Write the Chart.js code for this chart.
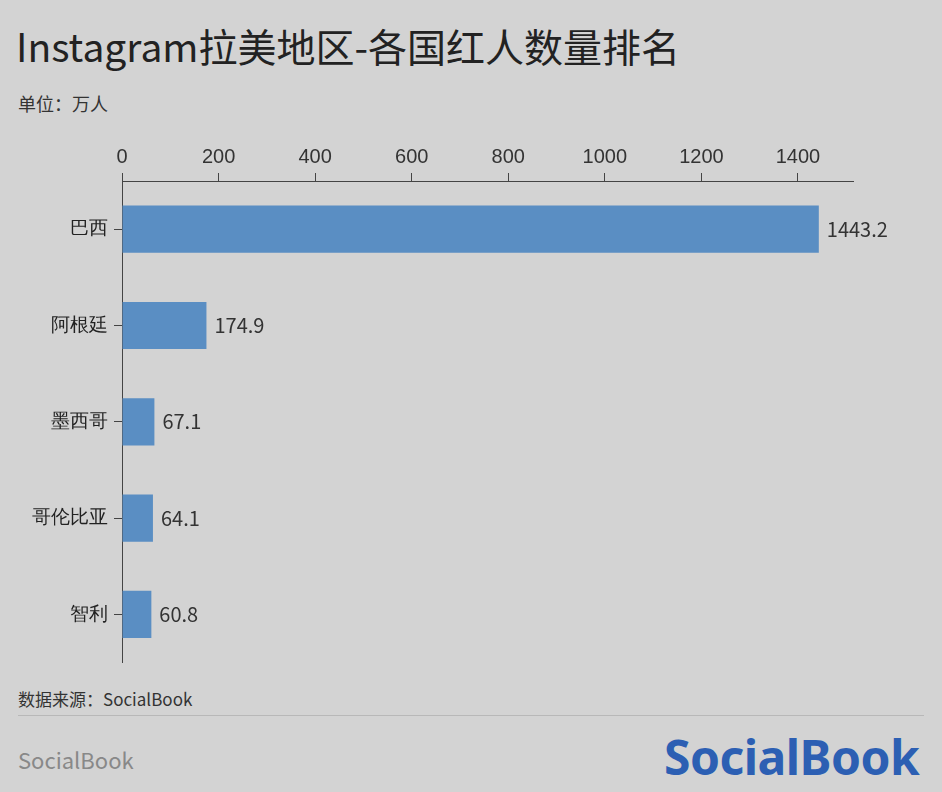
<!DOCTYPE html>
<html><head><meta charset="utf-8">
<script src="https://cdn.jsdelivr.net/npm/chart.js@4/dist/chart.umd.min.js"></script>
<style>
body{margin:0;width:942px;height:792px;background:#d3d3d3;font-family:"Noto Sans CJK SC","Noto Sans",sans-serif;position:relative;overflow:hidden}
.t{position:absolute;white-space:nowrap}
</style></head><body>
<div class="t" style="left:16px;top:17px;font-size:39px;color:#222">Instagram拉美地区-各国红人数量排名</div>
<div class="t" style="left:18px;top:90px;font-size:18px;color:#333">单位：万人</div>
<div style="position:absolute;left:0;top:130px;width:942px;height:550px"><canvas id="c"></canvas></div>
<div class="t" style="left:18px;top:686px;font-size:17px;color:#333">数据来源：SocialBook</div>
<div style="position:absolute;left:18px;top:715px;width:906px;height:1px;background:#b8b8b8"></div>
<div class="t" style="left:18px;top:743px;font-size:22px;color:#888">SocialBook</div>
<div class="t" style="left:664px;top:724px;font-size:48px;font-weight:bold;color:#2c5fb3;font-family:'Noto Sans',sans-serif;letter-spacing:-0.5px">SocialBook</div>
<script>
const categories=["巴西","阿根廷","墨西哥","哥伦比亚","智利"];
const values=[1443.2,174.9,67.1,64.1,60.8];
const xTicks=[0,200,400,600,800,1000,1200,1400];
const labelPlugin={id:'lbl',afterDatasetsDraw(ch){const ctx=ch.ctx;const m=ch.getDatasetMeta(0);ctx.save();ctx.font='20px "Noto Sans CJK SC","Noto Sans"';ctx.fillStyle='#333';ctx.textBaseline='middle';m.data.forEach((b,i)=>ctx.fillText(values[i].toFixed(1),b.x+8,b.y));ctx.restore();}};
new Chart(document.getElementById('c'),{type:'bar',data:{labels:categories,datasets:[{data:values,backgroundColor:'#5a8ec3',barPercentage:0.49,categoryPercentage:1}]},
options:{indexAxis:'y',responsive:true,maintainAspectRatio:false,animation:false,layout:{padding:{right:89,bottom:0}},
plugins:{legend:{display:false},tooltip:{enabled:false}},
scales:{x:{position:'top',min:0,max:1514,afterBuildTicks(s){s.ticks=xTicks.map(v=>({value:v}));},ticks:{autoSkip:false,color:'#333',font:{size:20},padding:4,callback:v=>String(v)},grid:{drawOnChartArea:false,color:'#444',tickLength:8},border:{color:'#444'},afterFit(s){s.height=51;}},
y:{ticks:{color:'#222',font:{size:19},padding:6},grid:{offset:false,drawOnChartArea:false,color:'#444',tickLength:8},border:{color:'#444'},afterFit(s){s.width=122;}}}},plugins:[labelPlugin]});
</script></body></html>
